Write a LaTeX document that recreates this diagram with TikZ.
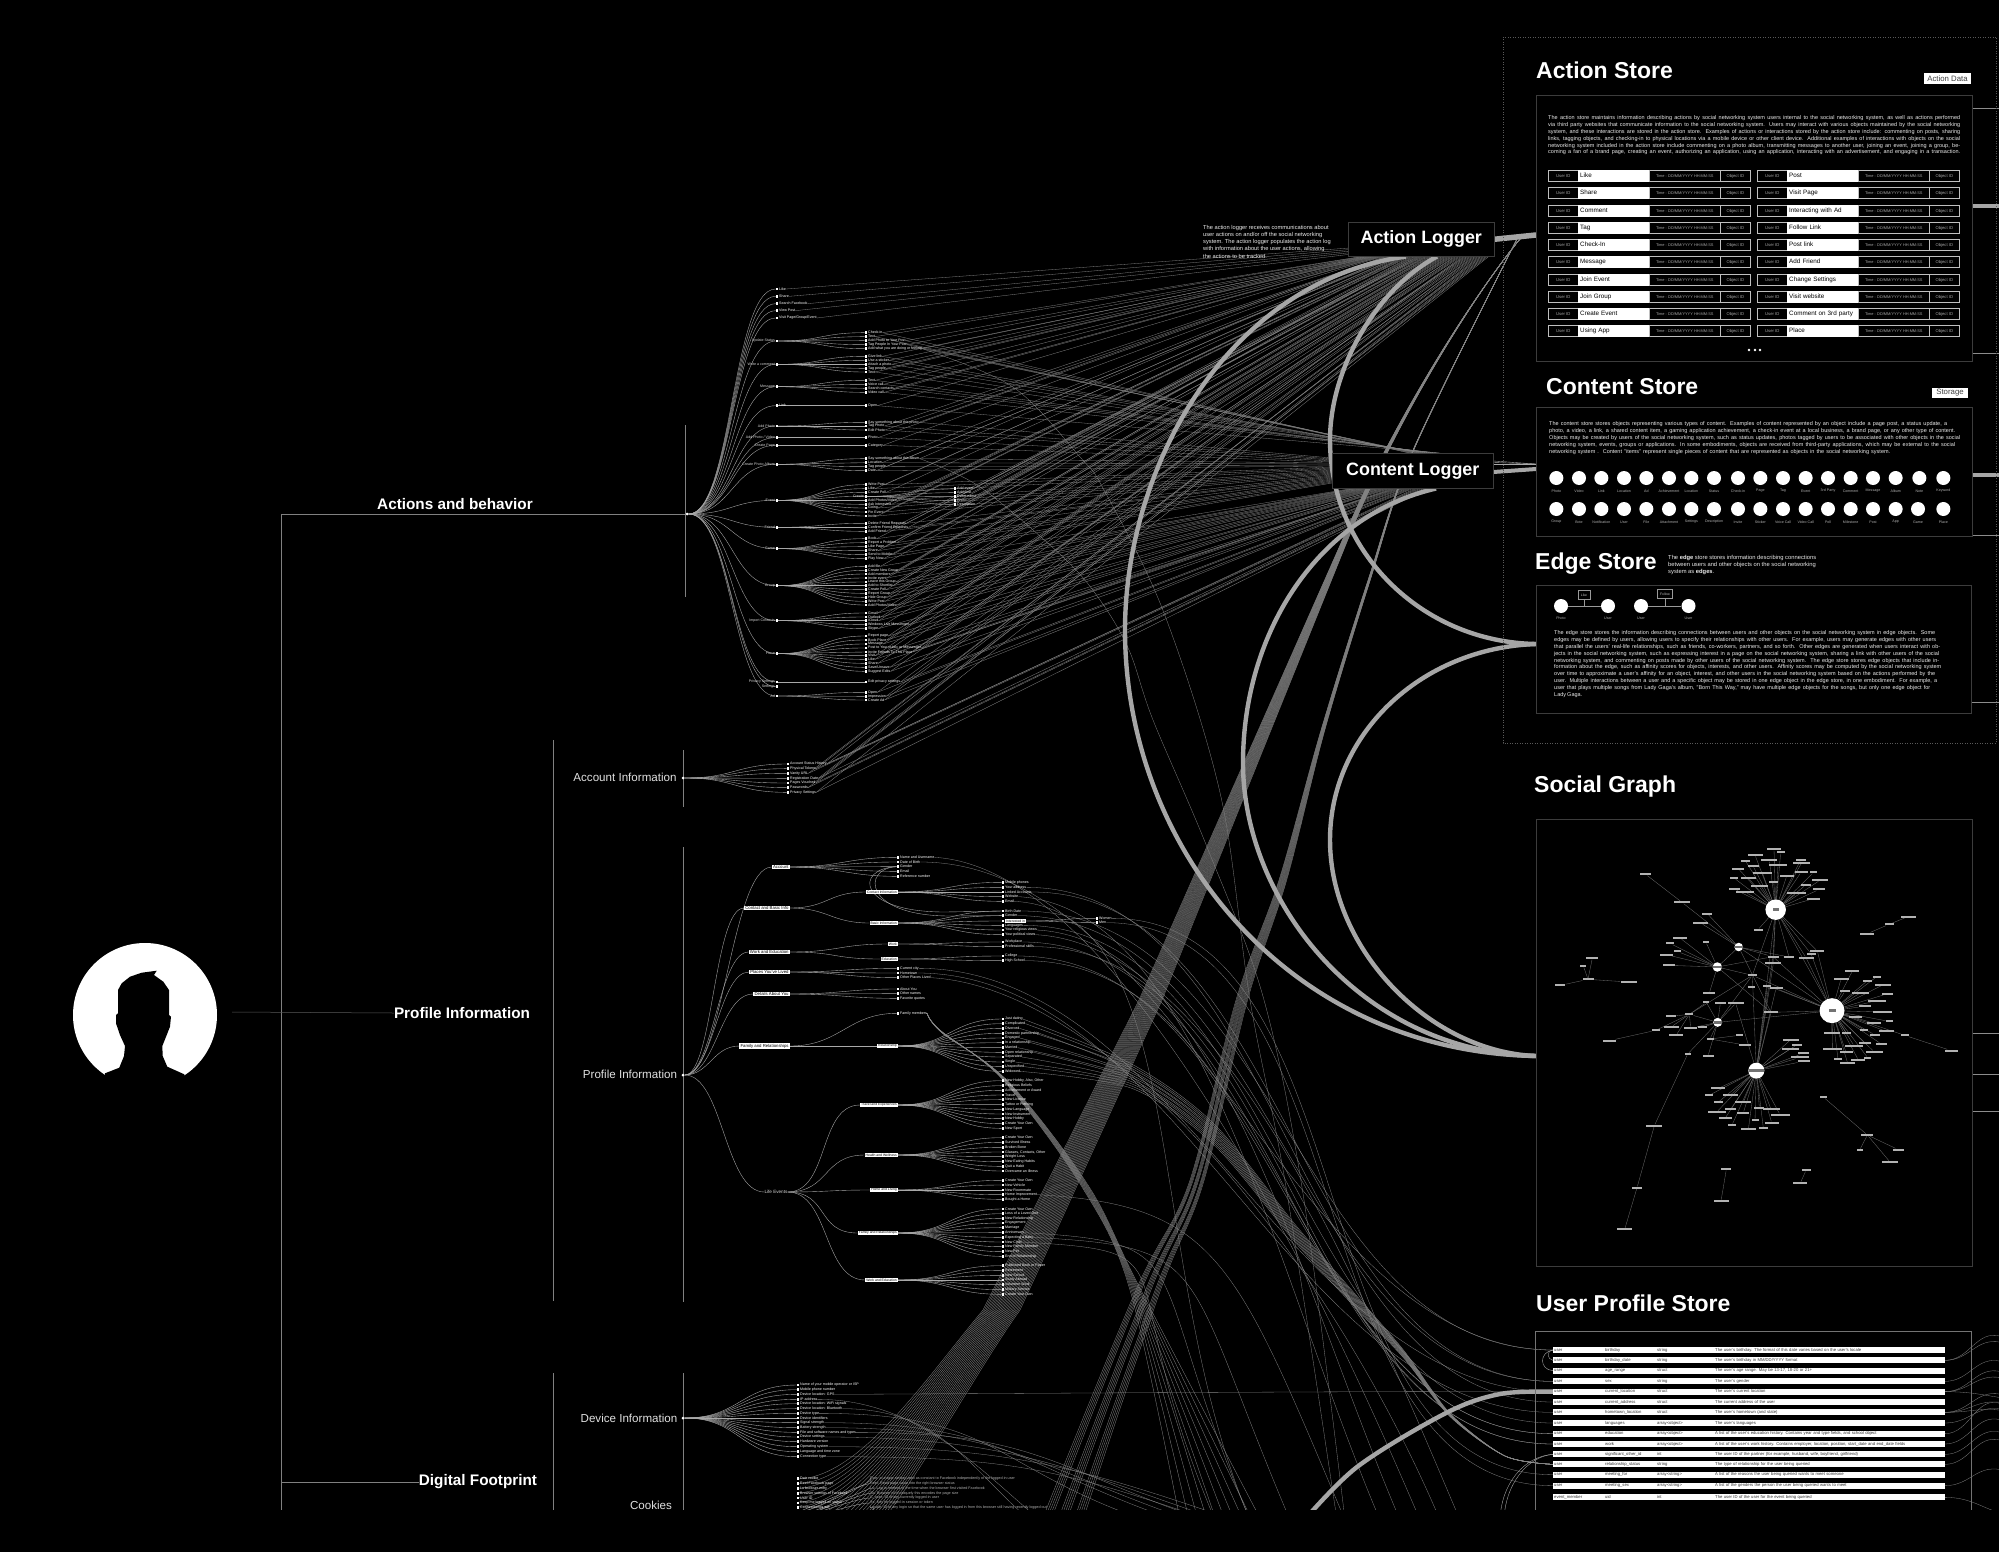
\documentclass[tikz,border=0pt]{standalone}
\usepackage{fontspec}
\setmainfont{Liberation Sans}
\usetikzlibrary{calc}
\pgfdeclarelayer{bg}
\pgfdeclarelayer{lines}
\pgfsetlayers{bg,lines,main}
\newcommand\fs[1]{\fontsize{#1}{#1}\selectfont}
\definecolor{tline}{HTML}{A8A8A8}
\definecolor{fline}{HTML}{858585}
\definecolor{arcg}{HTML}{A6A6A6}
\definecolor{edgeg}{HTML}{3C3C3C}
\tikzset{
 tw/.style={draw=tline,line width=.38pt},
 twf/.style={draw=fline,line width=.3pt},
 trunk/.style={draw=white!50!black,line width=.55pt},
 bandl/.style={draw=fline,line width=.32pt},
 thickarc/.style={draw=arcg,line width=4.4pt},
 ltxt/.style={font=\fs{3.6},text=white,inner sep=0pt,anchor=west},
 ldot/.style={fill=white,inner sep=0pt,minimum size=2.4pt,rectangle},
 rdot/.style={fill=white,inner sep=0pt,minimum size=3pt,circle},
 llab/.style={font=\fs{3.6},text=white!85!black,inner sep=0pt,anchor=east},
 pb/.style={fill=white,text=black,inner xsep=1.2pt,inner ysep=.8pt,anchor=east,font=\fs{4.3}},
 pbs/.style={fill=white,text=black,inner xsep=1pt,inner ysep=.7pt,anchor=east,font=\fs{3.4}},
 sect/.style={font=\bfseries\fs{15.3},text=white,inner sep=0pt},
 subt/.style={font=\fs{11.6},text=white!88!black,inner sep=0pt},
 storet/.style={font=\bfseries\fs{23},text=white,inner sep=0pt,anchor=west},
 storeb/.style={draw=edgeg,line width=.7pt,inner sep=0pt,anchor=north west},
 para/.style={font=\fs{5.5},text=white!92!black,inner sep=0pt,anchor=west},
 cellk/.style={draw=white!75!black,fill=black,text=white!65!black,font=\fs{4.2},inner sep=0pt,minimum height=11.5pt,anchor=west,line width=.6pt},
 cellw/.style={fill=white,text=black,font=\fs{6.3},inner xsep=2pt,inner ysep=0pt,minimum height=11.5pt,text height=4.6pt,text depth=1.4pt,text width=67pt,align=left,anchor=west},
 tag/.style={fill=white,text=black!75,font=\fs{7.8},inner sep=0pt},
 cdisc/.style={circle,fill=white,minimum size=14pt,inner sep=0pt},
 clab/.style={font=\fs{3.6},text=white!70!black,inner sep=0pt},
 sgn/.style={fill=white!70!black,inner sep=0pt,minimum height=2.3pt,rectangle},
 sgl/.style={draw=white!42!black,line width=.33pt},
 hub/.style={circle,fill=white,inner sep=0pt},
 hubl/.style={fill=white!45!black,inner sep=0pt,minimum height=2.8pt},
 rcell/.style={fill=white,text=black!80,font=\fs{4.2},inner xsep=1pt,inner ysep=0pt,minimum height=6pt,text height=3pt,text depth=1pt,align=left,anchor=west},
 logger/.style={draw=edgeg,fill=black,text=white,font=\bfseries\fs{17.9},inner sep=0pt,anchor=north west,line width=.5pt},
 dashbox/.style={draw=white!35!black,line width=.4pt,dash pattern=on 1pt off 1.5pt},
}
\newcount\alc \newcount\clc \newcount\cwc \newcount\csc
% connectors are queued and all drawn once, on one layer
\gdef\connq{}
\newcommand\Q[1]{\xdef\connq{\unexpanded\expandafter{\connq}#1}}
\newcommand\fan[6]{% root, prefix, x, y0, half dx, list
 \foreach \z/\lab [count=\i] in {#6}{
  \node[ltxt] (#2-\i) at ({#3+2},{#4+\z/3}) {\lab};
  \node[ldot] (#2d\i) at ({#3},{#4+\z/3}) {};
  \Q{\noexpand\draw[tw] (#1) .. controls +(#5,0) and +(-#5,0) .. (#2d\i);}
 }}
\newcommand\pbox[7][pb]{% style; name, parent, xright, y, label, half dx
 \node[#1] (#2) at (#4,#5) {#6};
 \Q{\noexpand\draw[tw] (#3) .. controls +(#7,0) and +(-#7,0) .. (#2.west);}}
\newcommand\toAL[2]{\foreach \i in {1,...,#2}{\global\advance\alc by 1 \pgfmathsetmacro\dd{12+1.55*\the\alc}
 \Q{\noexpand\draw[twf] (#1-\i.east) -- ($(AL.south west)+(\dd,0)$);}}}
\newcommand\toCLn[2]{\foreach \i in {1,...,#2}{\global\advance\clc by 1 \pgfmathsetmacro\dd{75+2.2*\the\clc}
 \Q{\noexpand\draw[twf] (#1-\i.east) -- ($(CL.north west)+(\dd,0)$);}}}
\newcommand\toCLw[2]{\foreach \i in {1,...,#2}{\global\advance\cwc by 1 \pgfmathsetmacro\dd{4+1*\the\cwc}
 \Q{\noexpand\draw[twf] (#1-\i.east) -- ($(CL.north west)+(0,\dd)$);}}}
\newcommand\toCLs[2]{\foreach \i in {1,...,#2}{\global\advance\csc by 1 \pgfmathsetmacro\dd{18+2.1*\the\csc}
 \Q{\noexpand\draw[twf] (#1-\i.east) -- ($(CL.south west)+(\dd,0)$);}}}
\newcommand\paralines[4]{% x, y0, dy, list w/text
 \foreach \w/\tx [count=\i] in {#4}{
  \node[para] at ({#1},{#2+(\i-1)*#3}) {\makebox[\w pt][s]{\tx}};
 }}
\begin{document}
\begin{tikzpicture}[x=1pt,y=-1pt]
\begin{pgfonlayer}{bg}
\fill[black] (0,0) rectangle (1999,1552);
\end{pgfonlayer}
\useasboundingbox (0,0) rectangle (1999,1552);

% ---------- user icon
\node[circle,fill=white,minimum size=144pt,inner sep=0pt] (usr) at (145,1015) {};
\fill[black] (156.7,970.7) -- (154,975) -- (163.3,981.7) -- (169,990) -- (169,1015) -- (171,1016.7) -- (170,1026.7) -- (166.7,1035) -- (162.3,1046) -- (162.7,1056) -- (167.3,1066.7) -- (184.3,1074.3) -- (190,1107) -- (100,1107) -- (105,1073.3) -- (119.3,1067.7) -- (124,1056) -- (125,1046) -- (120,1035) -- (116,1023.3) -- (116,1015) -- (118,1013.3) -- (118,990) -- (121.7,983.3) -- (130,976.7) -- (141.7,972.7) -- cycle;

% ---------- trunk
\coordinate (usrr) at (232,1012);
\coordinate (trtop) at (281,514);
\coordinate (trbot) at (281,1515);
\coordinate (trd) at (281,1482);
\coordinate (vba) at (553,740); \coordinate (vbb) at (553,1301);
\coordinate (vca) at (553,1373); \coordinate (vcb) at (553,1515);
\coordinate (vaa) at (685,425); \coordinate (vab) at (685,597);
\coordinate (vda) at (683,750); \coordinate (vdb) at (683,807);
\coordinate (vea) at (683,847); \coordinate (veb) at (683,1302);
\coordinate (vfa) at (683,1373); \coordinate (vfb) at (683,1515);
\node[rdot] (aroot) at (687,514) {};
\node[sect] (tact) at (455,504) {Actions and behavior};
\node[sect] (tprof) at (462,1013) {Profile Information};
\node[sect] (tdig) at (478,1482) {Digital Footprint};
\node[subt] (tacc) at (625,777) {Account Information};
\node[subt] (tpi) at (630,1074) {Profile Information};
\node[subt] (tdev) at (629,1418) {Device Information};
\node[subt] (tck) at (651,1505) {Cookies};
\Q{\noexpand\draw[trunk] (trtop) -- (trbot);}
\Q{\noexpand\draw[trunk] (trtop) -- (aroot);}
\Q{\noexpand\draw[trunk] (trd) -- (tdig.west);}
\Q{\noexpand\draw[draw=white!35!black,line width=.5pt] (usrr) -- (tprof.west);}
\foreach \a/\b in {vba/vbb,vca/vcb,vaa/vab,vda/vdb,vea/veb,vfa/vfb}{\Q{\noexpand\draw[trunk] (\a) -- (\b);}}

% ---------- loggers
\node[logger,minimum width=146pt,minimum height=34pt] (AL) at (1348,222) {Action Logger};
\node[logger,minimum width=161pt,minimum height=35pt] (CL) at (1332,453) {Content Logger};
\foreach \y/\tx [count=\i] in {228/The action logger receives communications about,235/{user actions on and/or off the social networking},242/system. The action logger populates the action log,249/with information about the user actions{,} allowing,256/the actions to be tracked.}{
 \node[para,font=\fs{5.7}] (ald\i) at (1203,\y) {\tx};
}

% ---------- Actions tree
\fan{aroot}{atop}{777}{270}{45}{57/Like,79/Share,101/Search Facebook,122/View Post,144/{Visit Page/Group/Event},407/Link}
\foreach \z/\lab [count=\i] in {213/Update Status,283/Write a comment,350/Message,468/Add Photo,503/{Add Photo / Video},526/Create Page,583/Create Photo Album,691/Event,772/Friend,836/Game,947/Group,1052/Import Contacts,1151/Place,1236/Privacy Settings,1250/Settings,1278/Ad}{
 \node[ldot] (ab-\i) at (777,{270+\z/3}) {};
 \node[llab] (abl-\i) at (775,{270+\z/3}) {\lab};
 \Q{\noexpand\draw[tw] (aroot) .. controls +(45,0) and +(-45,0) .. (ab-\i);}
}
\fan{ab-1}{c1}{866}{270}{45}{188/Check-in,200/Text,212/Add Photo to Your Post,224/Tag People In Your Post,236/Add what you are doing or feeling}
\fan{ab-2}{c2}{866}{270}{45}{259/Give link,271/Use a sticker,283/Attach a photo,295/Tag people,306/Text}
\fan{ab-3}{c3}{866}{270}{45}{331/Text,343/Voice call,355/Search contacts,367/Video call}
\fan{atopd6}{c4}{866}{270}{45}{407/Open}
\fan{ab-4}{c5}{866}{270}{45}{457/Say something about this photo,468/Tag Photo,480/Edit Photo}
\fan{ab-5}{c6}{866}{270}{45}{503/Photo}
\fan{ab-6}{c7}{866}{270}{45}{526/Category}
\fan{ab-7}{c8}{866}{270}{45}{566/Say something about this album,578/Location,590/Tag people,602/Date}
\fan{ab-8}{c9}{866}{270}{45}{644/Write Post,656/Like,667/Create Poll,691/{Add Photos/Video},703/Ask Interested,714/Going,726/Pin Event,738/Invite}
\node[ldot] (cre) at (866,{270+679/3}) {};
\node[llab] (crel) at (864,{270+679/3}) {Create};
\Q{\noexpand\draw[tw] (ab-8) .. controls +(45,0) and +(-45,0) .. (cre);}
\fan{cre}{c9b}{955}{270}{45}{656/Add event,668/Add post,680/Event name,692/Photo,704/Description}
\fan{ab-9}{c10}{866}{270}{45}{760/Delete Friend Requests,772/Confirm Friend Requests,784/Add Friend}
\fan{ab-10}{c11}{866}{270}{45}{806/Book,818/Report a Problem,830/Like Page,842/Share,854/Send to Mobile,866/Play Now}
\fan{ab-11}{c12}{866}{270}{45}{889/Add file,901/Create New Group,912/Add members,924/Invite event,936/Leave this Group,947/Add to Shortlist,959/Create Poll,970/Report Group,982/Hide Group,994/Write Post,1005/{Add Photos/Video}}
\fan{ab-12}{c13}{866}{270}{45}{1029/Gmail,1041/Outlook,1052/iCloud,1064/Windows Live Messenger,1076/Skype}
\fan{ab-13}{c14}{866}{270}{45}{1098/Report page,1110/Book Place,1122/Message,1134/Post to Your public or Messenger,1146/Invite Friends To This Place,1157/Visit,1168/Like,1180/Share,1192/{Save/Unsave},1204/Suggest Edits}
\fan{ab-14}{c15}{866}{270}{45}{1236/Edit privacy settings}
\fan{ab-16}{c16}{866}{270}{45}{1267/Open,1279/Impression,1290/Create Ad}

% ---------- Account
\node[rdot] (acroot) at (683,778) {};
\fan{acroot}{ac}{788}{730}{52}{102/Account Status History,116/Physical Tokens,130/Vanity URL,145/Registration Date,159/Pages Vouched,173/Passwords,187/Privacy Settings}

% ---------- Action outflows
\foreach \i in {1,...,5}{\pgfmathsetmacro\dd{-10+\i*1.6}\Q{\noexpand\draw[twf] (atop-\i.east) -- ($(AL.south west)+(0,\dd)$);}}
\toAL{c1}{5}\toAL{c2}{5}\toAL{c3}{4}\toAL{c4}{1}\toAL{c5}{3}\toAL{c6}{1}\toAL{c7}{1}\toAL{c8}{4}\toAL{c9}{8}\toAL{c9b}{5}\toAL{c10}{3}\toAL{c11}{6}\toAL{c12}{11}\toAL{c13}{5}\toAL{c14}{10}\toAL{c15}{1}\toAL{c16}{3}\toAL{ac}{7}
\toCLn{c1}{5}\toCLn{c2}{5}\toCLn{c3}{4}\toCLn{c4}{1}
\toCLw{c5}{3}\toCLw{c6}{1}\toCLw{c7}{1}\toCLw{c8}{4}\toCLw{c9}{8}\toCLw{c10}{3}\toCLw{c11}{6}
\toCLs{c12}{11}\toCLs{c13}{5}\toCLs{c14}{10}\toCLs{c15}{1}\toCLs{c16}{3}\toCLs{ac}{7}

% ---------- Profile tree
\node[rdot] (proot) at (683,1075) {};
\pbox{pa}{proot}{790}{867}{Account}{40}
\pbox{pc}{proot}{790}{908}{Contact and Basic Info}{30}
\pbox{pw}{proot}{790}{952}{Work and Education}{30}
\pbox{pp}{proot}{790}{972}{Places You've Lived}{30}
\pbox{pd}{proot}{790}{994}{Details About You}{33}
\pbox{pf}{proot}{790}{1046}{Family and Relationships}{26}
\node[font=\fs{4.6},text=white!85!black,inner sep=0pt] (pl) at (776,1192) {Life Events};
\Q{\noexpand\draw[tw] (proot) .. controls +(40,0) and +(-40,0) .. (pl.west);}
\fan{pa.east}{acct}{898}{840}{50}{52/Name and Username,66/Date of Birth,80/Gender,94/Email,109/Reference number}
\pbox[pbs]{pci}{pc.east}{898}{892}{Contact Information}{38}
\pbox[pbs]{pbi}{pc.east}{898}{923}{Basic Information}{38}
\pbox[pbs]{pwk}{pw.east}{898}{944}{Work}{48}
\pbox[pbs]{ped}{pw.east}{898}{959}{Education}{48}
\fan{pp.east}{plc}{898}{840}{50}{385/Current city,399/Hometown,413/Other Places Lived}
\fan{pd.east}{dt}{898}{840}{50}{447/About You,461/Other names,475/Favorite quotes}
\fan{pf.east}{fm}{898}{840}{50}{520/Family members}
\pbox[pbs]{prl}{pf.east}{898}{1046}{Relationship}{45}
\pbox[pbs]{ptr}{pl.east}{898}{1105}{Travel and Experiences}{42}
\pbox[pbs]{phl}{pl.east}{898}{1155}{Health and Wellness}{42}
\pbox[pbs]{phm}{pl.east}{898}{1190}{Home and Living}{42}
\pbox[pbs]{pfr}{pl.east}{898}{1233}{Family and Relationships}{42}
\pbox[pbs]{pwe}{pl.east}{898}{1280}{Work and Education}{42}
\fan{pci.east}{ct}{1003}{840}{52}{127/Mobile phones,142/Your address,156/Linked Accounts,170/Website,184/Email}
\fan{pbi.east}{bs}{1003}{840}{52}{213/Birth Date,227/Gender,256/Languages,270/Your religious views,284/Your political views}
\node[fill=white,text=black,font=\fs{3.4},inner xsep=1pt,inner ysep=.7pt,anchor=west] (bint) at (1005,921) {Interested in};
\node[ldot] (bintd) at (1003,921) {};
\Q{\noexpand\draw[tw] (pbi.east) .. controls +(52,0) and +(-52,0) .. (bintd);}
\fan{bint.east}{iv}{1097}{840}{38}{235/Women,248/Men}
\fan{pwk.east}{wk}{1003}{840}{52}{306/Workplace,320/Professional skills}
\fan{ped.east}{ed}{1003}{840}{52}{348/College,362/High School}
\fan{prl.east}{rl}{1003}{840}{52}{537/Just dating,551/Complicated,565/Divorced,580/Domestic partnership,594/Engaged,608/In a relationship,623/Married,637/Open relationship,651/Separated,666/Single,680/Unspecified,694/Widowed}
\fan{ptr.east}{tr}{1003}{840}{52}{722/{New Hobby, Also, Other},737/Religious Beliefs,751/Achievement or Award,765/Travel,779/New Licence,793/Tattoo or Piercing,808/New Language,822/New Instrument,836/New Hobby,851/Create Your Own,865/New Sport}
\fan{phl.east}{hl}{1003}{840}{52}{893/Create Your Own,907/Survived Illness,922/Broken Bone,936/{Glasses, Contacts, Other},950/Weight Loss,965/New Eating Habits,979/Quit a Habit,993/Overcame an Illness}
\fan{phm.east}{hm}{1003}{840}{52}{1021/Create Your Own,1035/New Vehicle,1050/New Roommate,1064/Home Improvement,1078/Bought a Home}
\fan{pfr.east}{fr}{1003}{840}{52}{1107/Create Your Own,1121/Loss of a Loved One,1135/New Relationship,1149/Engagement,1163/Marriage,1178/Anniversary,1192/Expecting a Baby,1206/New Child,1220/New Family Member,1235/New Pet,1249/End of Relationship}
\fan{pwe.east}{we}{1003}{840}{52}{1277/Published Book or Paper,1291/Retirement,1306/New School,1320/Study Abroad,1334/Volunteer Work,1349/Military Service,1363/Create Your Own}

% ---------- Device and cookies
\node[rdot] (droot) at (683,1418) {};
\fan{droot}{dv}{798}{1360}{57}{75/Name of your mobile operator or ISP,89/Mobile phone number,103/Device location: GPS,118/IP address,131/Device location: WiFi signals,146/Device location: Bluetooth,160/Device type,174/Device identifiers,188/Signal strength,203/Battery strength,217/File and software names and types,231/Device settings,245/Hardware version,260/Operating system,275/Language and time zone,290/Connection type}
\coordinate (croot) at (683,1545);
\fan{croot}{ck}{798}{1360}{57}{356/Datr cookie,371/Reel Facebook page,385/Lu browser entry,400/Browser settings of Facebook,414/User ID,429/Keep me logged on status,443/Connected log out}
\foreach \z/\tx [count=\i] in {356/Datr: a unique setting used as constant to Facebook independently of the logged-in user,371/Reel: Read page value into the right browser status,385/Lu: Log-in method of the time when the browser first visited Facebook,400/Sb: Browser id of uniquely this encodes the page size,414/C\_user: ID of any currently logged-in user,429/Xs: Key for logged-in session or token,443/Locale: ID of any login so that the same user has logged in from this browser still having recently logged out}{
 \node[ltxt,text=white!70!black,font=\fs{3.7}] (ckd\i) at (870,{1360+\z/3}) {\tx};
}

% ---------- Action Store
\node[storet] (tas) at (1536,70) {Action Store};
\node[tag,minimum width=47pt,minimum height=11pt] (tgas) at (1947.5,78.5) {Action Data};
\node[storeb,minimum width=436pt,minimum height=266pt] (asb) at (1536,95) {};
\paralines{1548}{118}{6.9}{412/{The action store maintains information describing actions by social networking system users internal to the social networking system, as well as actions performed},412/{via third party websites that communicate information to the social networking system. Users may interact with various objects maintained by the social networking},412/{system, and these interactions are stored in the action store. Examples of actions or interactions stored by the action store include: commenting on posts, sharing},412/{links, tagging objects, and checking-in to physical locations via a mobile device or other client device. Additional examples of interactions with objects on the social},412/{networking system included in the action store include commenting on a photo album, transmitting messages to another user, joining an event, joining a group, be-},412/{coming a fan of a brand page, creating an event, authorizing an application, using an application, interacting with an advertisement, and engaging in a transaction.}}
\foreach \y/\a/\b [count=\i] in {176/Like/Post,193/Share/Visit Page,211/Comment/Interacting with Ad,228/Tag/Follow Link,245/Check-In/Post link,262/Message/Add Friend,280/Join Event/Change Settings,297/Join Group/Visit website,314/Create Event/Comment on 3rd party,331/Using App/Place}{
 \foreach \x/\m/\nm in {1548/\a/L,1757/\b/R}{
  \node[cellk,minimum width=30pt] (au\nm\i) at (\x,\y) {User ID};
  \node[cellw] (an\nm\i) at ({\x+30},\y) {\m};
  \node[cellk,minimum width=71pt,font=\fs{3.9}] (at\nm\i) at ({\x+101},\y) {Time : DD/MM/YYYY HH:MM:SS};
  \node[cellk,minimum width=30pt] (ao\nm\i) at ({\x+172},\y) {Object ID};
 }
}
\foreach \x [count=\i] in {1749,1755,1760}{\node[circle,fill=white,inner sep=0pt,minimum size=2.8pt] (adot\i) at (\x,350) {};}

% ---------- Content Store
\node[storet] (tcs) at (1546,387) {Content Store};
\node[tag,minimum width=36pt,minimum height=10.5pt] (tgcs) at (1950,393) {Storage};
\node[storeb,minimum width=436pt,minimum height=129pt] (csb) at (1536,407) {};
\paralines{1549}{424}{7}{398/{The content store stores objects representing various types of content. Examples of content represented by an object include a page post, a status update, a},406/{photo, a video, a link, a shared content item, a gaming application achievement, a check-in event at a local business, a brand page, or any other type of content.},411/{Objects may be created by users of the social networking system, such as status updates, photos tagged by users to be associated with other objects in the social},406/{networking system, events, groups or applications. In some embodiments, objects are received from third-party applications, which may be external to the social},341/{networking system . Content "items" represent single pieces of content that are represented as objects in the social networking system.}}
\foreach \z/\lab [count=\i] in {169/Photo,237/Video,304/Link,372/Location,439/Ad,507/Achievement,574/Location,642/Status,714/Check-in,781/Page,849/Tag,917/Event,984/3rd Party,1052/Comment,1119/Message,1187/Album,1258/Note,1330/Keyword}{
 \node[cdisc] (cc\i) at ({1500+\z/3},478) {};
 \node[clab] (ccl\i) at ({1500+\z/3},491) {\lab};
}
\foreach \z/\lab [count=\i] in {169/Group,237/Bote,304/Notification,372/User,439/File,507/Attachment,574/Settings,642/Description,714/Invite,781/Sticker,849/Voice Call,917/Video Call,984/Poll,1052/Milestone,1119/Post,1187/App,1254/Game,1330/Place}{
 \node[cdisc] (cd\i) at ({1500+\z/3},509) {};
 \node[clab] (cdl\i) at ({1500+\z/3},522) {\lab};
}

% ---------- Edge Store
\node[storet] (tes) at (1535,564) {Edge Store};
\node[para,font=\fs{5.8}] (esd1) at (1668,558) {The \textbf{edge} store stores information describing connections};
\node[para,font=\fs{5.8}] (esd2) at (1668,565) {between users and other objects on the social networking};
\node[para,font=\fs{5.8}] (esd3) at (1668,572) {system as \textbf{edges}.};
\node[storeb,minimum width=435pt,minimum height=128pt] (esb) at (1536,585) {};
\foreach \x/\lab [count=\i] in {1561/Photo,1608/User,1641/User,1688.5/User}{
 \node[cdisc] (ee\i) at (\x,606) {};
 \node[clab] (eel\i) at (\x,618) {\lab};
}
\node[draw=white!60!black,fill=black,text=white!75!black,font=\fs{3.4},minimum width=12pt,minimum height=9pt,inner sep=0pt] (elk) at (1584,595) {Like};
\node[draw=white!60!black,fill=black,text=white!75!black,font=\fs{3.4},minimum width=15pt,minimum height=9pt,inner sep=0pt] (efl) at (1665,594) {Follow};
\draw[white!60!black,line width=.5pt] (ee1) -- (ee2);
\draw[white!60!black,line width=.5pt] (ee3) -- (ee4);
\draw[white!60!black,line width=.5pt] (elk.south) -- (elk.south |- ee1);
\draw[white!60!black,line width=.5pt] (efl.south) -- (efl.south |- ee3);
\paralines{1554}{633}{6.9}{381/{The edge store stores the information describing connections between users and other objects on the social networking system in edge objects. Some},382/{edges may be defined by users, allowing users to specify their relationships with other users. For example, users may generate edges with other users},386/{that parallel the users' real-life relationships, such as friends, co-workers, partners, and so forth. Other edges are generated when users interact with ob-},385/{jects in the social networking system, such as expressing interest in a page on the social networking system, sharing a link with other users of the social},385/{networking system, and commenting on posts made by other users of the social networking system. The edge store stores edge objects that include in-},387/{formation about the edge, such as affinity scores for objects, interests, and other users. Affinity scores may be computed by the social networking system},381/{over time to approximate a user's affinity for an object, interest, and other users in the social networking system based on the actions performed by the},383/{user. Multiple interactions between a user and a specific object may be stored in one edge object in the edge store, in one embodiment. For example, a},376/{user that plays multiple songs from Lady Gaga's album, "Born This Way," may have multiple edge objects for the songs, but only one edge object for},28/{Lady Gaga.}}

% ---------- outer dashed frame
\coordinate (fa) at (1503,37); \coordinate (fb) at (1996,743);
\draw[dashbox] (fa) rectangle (fb);

% ---------- Social Graph
\node[storet] (tsg) at (1534,787) {Social Graph};
\node[storeb,minimum width=436pt,minimum height=447pt] (sgb) at (1536,819) {};
\node[hub,minimum size=20.5pt] (h1) at ({1530+737/3},{810+299/3}) {};
\node[hub,minimum size=25pt] (h2) at ({1530+906/3},{810+602/3}) {};
\node[hub,minimum size=16pt] (h3) at ({1530+679/3},{810+782/3}) {};
\node[hub,minimum size=8.5pt] (h4) at ({1530+626/3},{810+411/3}) {};
\node[hub,minimum size=9.5pt] (h5) at ({1530+562/3},{810+471/3}) {};
\node[hub,minimum size=9pt] (h6) at ({1530+563/3},{810+637/3}) {};
\foreach \hh/\ww in {h1/6,h2/7,h3/15,h4/8,h5/9,h6/8}{\node[hubl,minimum width=\ww pt] (\hh l) at (\hh) {};}
\foreach \hh/\lst in {h1/{732/118,752/127,675/135,646/152,718/151,812/150,815/158,669/168,744/165,625/176,697/188,813/187,851/187,770/198,612/204,655/204,731/216,871/210,827/225,687/229,612/237,645/246,868/238,800/250,850/266},h2/{967/483,1040/500,933/507,1012/512,1060/524,945/544,992/548,1073/551,1040/573,1004/589,1058/606,975/620,1077/634,1032/640,1002/660,1068/664,950/670,905/670,1035/675,1032/725,1054/702,972/707,1005/700,908/718,948/727,1013/743,985/750,924/748,953/760},h3/{565/835,537/856,600/856,564/877,640/877,688/893,723/898,602/897,560/906,640/908,750/914,585/925,675/930,725/938,606/945,655/958,700/955,782/689,800/705,782/716,820/730,810/742,821/754}}{
 \foreach \a/\b [count=\i] in \lst{
  \pgfmathsetmacro\w{7+mod(\i*7,13)}
  \node[sgn,minimum width=\w pt] (\hh s\i) at ({1530+\a/3},{810+\b/3}) {};
  \Q{\noexpand\draw[sgl] (\hh) -- (\hh s\i);}
 }
}
\foreach \a/\b [count=\i] in {347/193,456/277,532/311,512/339,684/359,450/384,420/400,409/434,441/424,416/466,528/397,729/440,730/460,777/441,828/443,843/431,862/423,712/527,738/535,663/532,538/549,529/577,571/580,617/580,422/619,423/651,516/652,439/675,377/661,238/692,627/676,645/705,473/732,534/738,373/947,321/1133,284/1258,667/496,723/607,478/613,482/654,540/687,187/444,160/468,174/508,296/516,91/526,1134/320,1077/343,1012/371,1124/676,1264/722,881/862,1012/975,989/1020,1105/1019,1080/1056,589/1078,573/1173,828/1081,811/1119}{
 \pgfmathsetmacro\w{6+mod(\i*5,11)}
 \node[sgn,minimum width=\w pt] (n\i) at ({1530+\a/3},{810+\b/3}) {};
}
\foreach \p/\q in {n1/n2,n2/h4,n3/h4,n4/h4,h4/h5,h4/n12,h4/n39,h4/n14,h4/h2,n6/h5,n7/h5,n8/h5,n9/h5,n10/h5,n11/h5,h5/n38,h5/n12,h5/n39,h5/n21,h1/n5,h1/n12,h1/n13,h1/n14,h1/n15,h1/n16,h1/n17,h1/n38,h1/h3,h1/h2,h2/n15,h2/n16,h2/n17,h2/n12,h2/n18,h2/n19,h2/n38,h2/n39,h2/n51,h2/h6,h3/n38,h3/n18,h3/n19,h3/n13,h3/n39,h3/n24,h3/n12,h6/n22,h6/n23,h6/n24,h6/n40,h6/n41,h6/n42,h6/n33,h6/n34,h6/n27,h6/n38,n40/n25,n40/n26,n40/n22,n40/n41,n40/n28,n40/n29,n40/n38,n29/n30,n33/n35,n35/n36,n36/n37,n42/n31,n42/n32,n43/n45,n44/n45,n46/n45,n47/n45,n48/n49,n49/n50,n51/n52,n53/n54,n54/n55,n54/n56,n54/n57,n58/n59,n60/n61}{\Q{\noexpand\draw[sgl] (\p) -- (\q);}}

% ---------- User Profile Store
\node[storet] (tup) at (1536,1303) {User Profile Store};
\coordinate (upa) at (1535,1515); \coordinate (upb) at (1535,1331); \coordinate (upc) at (1971,1331); \coordinate (upd) at (1971,1515);
\draw[white!45!black,line width=.6pt] (upa) -- (upb) -- (upc) -- (upd);
\foreach \z/\a/\b/\c/\d [count=\i] in {210/user/birthday/string/The user's birthday. The format of this date varies based on the user's locale,241/user/birthday\_date/string/The user's birthday in MM{\slash}DD{\slash}YYYY format,272/user/age\_range/struct/The user's age range. May be 13-17{,} 18-20 or 21+,304/user/sex/string/The user's gender,335/user/current\_location/struct/The user's current location,366/user/current\_address/struct/The current address of the user,397/user/hometown\_location/struct/The user's hometown (and state),429/user/languages/array<object>/The user's languages,461/user/education/array<object>/A list of the user's education history. Contains year and type fields{,} and school object,492/user/work/array<object>/A list of the user's work history. Contains employer{,} location{,} position{,} start\_date and end\_date fields,523/user/significant\_other\_id/int/The user ID of the partner (for example{,} husband{,} wife{,} boyfriend{,} girlfriend),553/user/relationship\_status/string/The type of relationship for the user being queried,584/user/meeting\_for/array<string>/A list of the reasons the user being queried wants to meet someone,617/user/meeting\_sex/array<string>/A list of the genders the person the user being queried wants to meet,652/event\_member/uid/int/The user ID of the user for the event being queried}{
 \node[rcell,text width=49.6pt] (r\i) at (1553,{1280+\z/3}) {\a};
 \node[rcell,text width=49.6pt] (rb\i) at (1604,{1280+\z/3}) {\b};
 \node[rcell,text width=55.6pt] (rc\i) at (1656,{1280+\z/3}) {\c};
 \node[rcell,text width=228.6pt] (rr\i) at (1714,{1280+\z/3}) {\d};
}

% ---------- all connectors, one layer
\begin{pgfonlayer}{lines}
\connq
\coordinate (alr) at (1520,239);
\coordinate (alr2) at (1517,239);
\foreach \k in {0,...,25}{
 \pgfmathsetmacro\tt{\k/25}
 \coordinate (cb\k) at (798,{1479+4.6*\k});
 \draw[bandl] (cb\k) .. controls ({860},{1479+4.6*\k-2}) and ({925+37*\tt},{1380+10*\tt}) .. ({983+37*\tt},1310) -- ({1139+23*\tt},1000) -- ({1348+5*\tt},527) .. controls ({1395+3*\tt},420) and ({1470},300) .. (alr);
}
% narrow bands: three strands at the foot
\foreach \k in {0,...,14}{
 \pgfmathtruncatemacro\gg{int(\k/5)}
 \pgfmathtruncatemacro\hh{mod(\k,5)}
 \pgfmathsetmacro\o{\k*.55}
 \pgfmathsetmacro\e{\gg*16+\hh*2.2}
 \coordinate (nb\k) at ({1042+\e},1520);
 \draw[bandl] plot[smooth,tension=.55] coordinates {(alr2) ({1413+\o*.1},450) ({1368+\o*.3},580) ({1321+\o*.5},730) ({1279+\o},880) ({1236+\o*1.5},1000) ({1189+\e*.35},1183) ({1136+\e*.6},1290) (nb\k)};
}
% thin long curves
\draw[twf] plot[smooth,tension=.55] coordinates {(c1-5.east) (1013,387) (1080,457) (1104,490) (1164,613) (1221,797) (1250,1000) (1286,1187) (1337,1520)};
\draw[twf] plot[smooth,tension=.55] coordinates {(c8-1.east) (980,487) (1063,557) (1100,600) (1129,650) (1153,720) (1207,847) (1264,1000) (1304,1200) (1345,1520)};
% relationship band to user store
\foreach \k in {1,...,12}{
 \draw[bandl] plot[smooth,tension=.5] coordinates {(rl-\k.east) ({1132},{1062+\k*2.2}) ({1214},{1122+\k*1.9}) ({1296},{1224+\k*1.6}) ({1357},{1295+\k*1.2}) ({1404},{1350+\k*.7}) ({1450},{1413+\k*.3}) ({1505},1456) (r12.west)};
}
% family members band
\foreach \k in {0,...,9}{
 \coordinate (fmb\k) at ({1180+\k*9},1520);
 \draw[bandl] plot[smooth,tension=.55] coordinates {(fm-1.east) ({940+\k*.2},{1030+\k*.3}) ({1003+\k*.6},{1080+\k*.2}) ({1082+\k*.8},1187) ({1130+\k*1.2},1290) (fmb\k)};
}
% profile S-curves to store rows
\foreach \lf/\rw in {acct-2/r1,bs-1/r1,ct-3/r4,bs-2/r4,plc-1/r5,ct-2/r6,plc-2/r7,bs-3/r8,ed-1/r9,ed-2/r9,wk-1/r10,wk-2/r10,iv-1/r13,iv-2/r14}{
 \draw[twf] (\lf.east) .. controls +(260,0) and +(-260,0) .. (\rw.west);
}
% profile curves off the bottom
\foreach \lf/\x in {hm-4/1345,fr-6/1250,fr-7/1290,fr-8/1215,acct-1/1420,ct-4/1380,ct-5/1250,plc-3/1440,bs-4/1400,bs-5/1460}{
 \coordinate (pe\lf) at (\x,1520);
 \draw[twf] (\lf.east) .. controls +(180,10) and +(-110,-260) .. (pe\lf);
}
% device outflows
\draw[twf] (dv-3.east) .. controls (1100,1393) and (1400,1391) .. (r5.west);
\foreach \lf/\x in {dv-4/1040,dv-6/1030}{
 \coordinate (de\lf) at (\x,1520);
 \draw[twf] (\lf.east) .. controls +(100,0) and +(-60,-50) .. (de\lf);
}
\foreach \lf/\x in {dv-7/1150,dv-9/1180,dv-10/1195,dv-11/1210,dv-12/1225,dv-14/1240,dv-16/1215}{
 \coordinate (de\lf) at (\x,1522);
 \draw[twf] (\lf.east) .. controls +(180,0) and +(-160,-55) .. (de\lf);
}
% gender loops
\draw[tw] (acctd3) .. controls (855,868) and (855,912) .. (945,912) -- (bsd1);
\draw[tw] (acctd3) .. controls (862,868) and (862,916) .. (950,916) -- (bsd2);
% row loops
\draw[tw] (r1.west) .. controls +(-14,2) and +(-14,-1) .. (r3.west);
\draw[tw] (r1.west) .. controls +(-7,1) and +(-6,-1) .. (r2.west);
\coordinate (r11e) at (1500,1520); \coordinate (r11f) at (1504,1520);
\draw[tw] (r11.west) .. controls +(-30,2) and +(1,-35) .. (r11e);
\draw[tw] (r11.west) .. controls +(-26,2) and +(1,-35) .. (r11f);
% thick arcs
\draw[thickarc] ($(AL.south west)+(58,0)$) .. controls (1225,282) and (1125,470) .. (1125,630) .. controls (1125,850) and (1290,1052) .. (sgb.west |- 0,1056);
\draw[thickarc] ($(AL.south west)+(89,0)$) .. controls (1375,290) and (1330,370) .. (1330,440) .. controls (1330,550) and (1420,642) .. (esb.west |- 0,644);
\draw[thickarc] ($(CL.south west)+(104,0)$) .. controls (1320,515) and (1243,630) .. (1243,763) .. controls (1243,900) and (1360,1052) .. (sgb.west |- 0,1056);
\draw[thickarc] (esb.west |- 0,644) .. controls (1420,648) and (1330,735) .. (1330,840) .. controls (1330,950) and (1430,1052) .. (sgb.west |- 0,1056);
\draw[thickarc] plot[smooth,tension=.55] coordinates {(r5.west) (1500,1394) (1446,1413) (1357,1467) (1300,1525)};
% store stubs
\draw[draw=arcg,line width=5.5pt] (AL.east) -- (asb.west |- 0,235);
\draw[draw=arcg,line width=4pt] (CL.east |- 0,472) -- (csb.west |- 0,469);
\foreach \y in {461,462.5,464}{\draw[tw] (CL.east |- 0,\y) -- (csb.west |- 0,464);}
\draw[draw=arcg,line width=4pt] (1511,645) -- (esb.west |- 0,644);
% right exits
\coordinate (xr) at (1999,0);
\foreach \y in {108,353}{\draw[draw=white!55!black,line width=.6pt] (asb.east |- 0,\y) -- (xr |- 0,\y);}
\draw[draw=arcg,line width=4.5pt] (asb.east |- 0,206) -- (xr |- 0,206);
\draw[draw=arcg,line width=4.5pt] (csb.east |- 0,475) -- (xr |- 0,475);
\draw[draw=white!55!black,line width=.6pt] (csb.east |- 0,535) -- (xr |- 0,535);
\draw[draw=white!55!black,line width=.6pt] (esb.east |- 0,702) -- (xr |- 0,702);
\foreach \y in {1033,1074,1111}{\draw[draw=white!55!black,line width=.6pt] (sgb.east |- 0,\y) -- (xr |- 0,\y);}
\foreach \i/\d in {2/-18,2/-24,4/-20,5/-14,5/-20,7/-10,7/-18,8/-14,9/-30,10/-24,11/-22,12/-24,14/-16}{
 \draw[twf] (rr\i.east) .. controls +(25,0) and +(-25,\d*.3) .. ($(rr\i.east)+(56,\d)$);
}
\draw[twf] (rr15.east) .. controls +(25,0) and +(-20,-6) .. ($(rr15.east)+(56,16)$);
\foreach \i/\d in {5/6,7/-2}{\draw[twf] (rr\i.east) .. controls +(25,0) and +(-20,-3) .. ($(rr\i.east)+(56,\d)$);}
\end{pgfonlayer}

% ---------- bottom mask
\fill[black] (0,1510) rectangle (1999,1552);
\end{tikzpicture}
\end{document}
